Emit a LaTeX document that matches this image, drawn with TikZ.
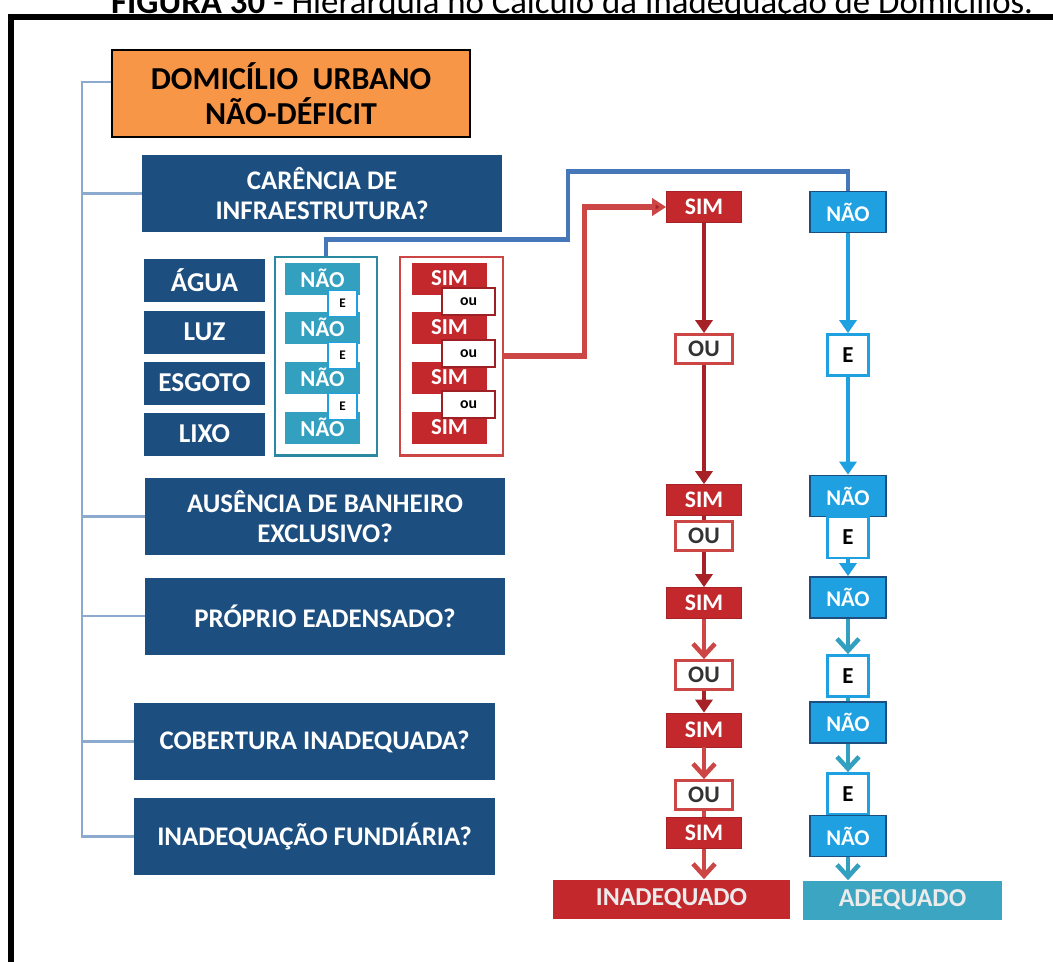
\documentclass[tikz,border=0pt]{standalone}
\usepackage{fontspec}
\setmainfont{Carlito}
\usetikzlibrary{arrows.meta}
\definecolor{azulesc}{RGB}{28,78,128}
\definecolor{laranja}{RGB}{247,150,70}
\definecolor{verdeag}{RGB}{50,160,190}
\definecolor{celeste}{RGB}{30,160,225}
\definecolor{vermelho}{RGB}{195,40,45}
\definecolor{ramo}{RGB}{140,170,205}
\definecolor{ligazul}{RGB}{70,120,185}
\definecolor{ligverm}{RGB}{205,70,70}
\begin{document}
\begin{tikzpicture}[x=0.2mm,y=-0.2mm,
 pergunta/.style={fill=azulesc,text=white,align=center,inner sep=0pt,minimum width=72mm,minimum height=15.4mm,font=\fontsize{15.3}{16.8}\selectfont\bfseries},
 item/.style={fill=azulesc,text=white,inner sep=0pt,minimum width=24.2mm,minimum height=8.6mm,font=\fontsize{15.5}{17}\selectfont\bfseries},
 naog/.style={fill=verdeag,text=white,inner sep=0pt,minimum width=15mm,minimum height=6.4mm,font=\fontsize{13}{14}\selectfont\bfseries},
 simg/.style={naog,fill=vermelho},
 eg/.style={draw=celeste,line width=0.8pt,fill=white,inner sep=0pt,minimum width=5.8mm,minimum height=5.2mm,font=\fontsize{7.5}{8}\selectfont\bfseries},
 oug/.style={eg,draw=vermelho!80!black,minimum width=10.6mm,minimum height=5.4mm,font=\fontsize{9}{10}\selectfont\bfseries},
 simc/.style={fill=vermelho,draw=vermelho!85!black,text=white,inner sep=0pt,minimum width=15mm,minimum height=6.2mm,font=\fontsize{13.5}{14}\selectfont\bfseries},
 naoc/.style={simc,fill=celeste,draw=azulesc,line width=1pt,minimum width=15.2mm,minimum height=8.2mm,font=\fontsize{12.8}{14}\selectfont\bfseries},
 ouc/.style={draw=ligverm,line width=1.6pt,fill=white,text=black!80,inner sep=0pt,minimum width=11.4mm,minimum height=5.8mm,font=\fontsize{13.5}{14}\selectfont\bfseries},
 ec/.style={ouc,draw=celeste,text=black,minimum width=8.2mm,minimum height=8.2mm,font=\fontsize{13}{14}\selectfont\bfseries},
 fim/.style={inner sep=0pt,text=white!92!black,minimum height=7.8mm,font=\fontsize{14.7}{16}\selectfont\bfseries},
 cheio/.style={line width=2.8pt,-{Triangle[length=2.6mm,width=3.4mm]}},
 aberto/.style={line width=2.6pt,-{Straight Barb[length=2.4mm,width=4.4mm]}}]
\useasboundingbox (0,0) rectangle (1053,962);
\draw[line width=3.2pt] (11,17) rectangle (1080,990);
\node[anchor=base west,font=\fontsize{19.8}{22}\selectfont] (titulo) at (105,13) {\textbf{FIGURA 30} - Hierarquia no Cálculo da Inadequação de Domicílios.};
% coluna das perguntas
\node[draw=black,line width=1.4pt,fill=laranja,align=center,inner sep=0pt,minimum width=71.6mm,minimum height=17.4mm,font=\fontsize{18.2}{20}\selectfont\bfseries] (dom) at (291,93.5) {DOMICÍLIO\ \ URBANO\\NÃO-DÉFICIT};
\node[pergunta] (carencia) at (322,193.5) {CARÊNCIA DE\\INFRAESTRUTURA?};
\foreach \t/\y/\n in {ÁGUA/280/agua,LUZ/332/luz,ESGOTO/383/esgoto,LIXO/434/lixo}
  \node[item] (\n) at (204.5,\y) {\t};
\node[pergunta] (ausencia) at (325,516.5) {AUSÊNCIA DE BANHEIRO\\EXCLUSIVO?};
\node[pergunta] (proprio) at (325,616) {PRÓPRIO EADENSADO?};
\node[pergunta] (cobertura) at (314.5,741.5) {COBERTURA INADEQUADA?};
\node[pergunta] (fundiaria) at (314.5,836.5) {INADEQUAÇÃO FUNDIÁRIA?};
\draw[ramo,line width=1.2pt] ([yshift=2.3mm]dom.west) -- ++(-29,0) coordinate (tronco) |- (fundiaria.west);
\foreach \n in {carencia,ausencia,proprio,cobertura}
  \draw[ramo,line width=1.2pt] (tronco |- \n.west) -- (\n.west);
% grupos de infraestrutura
\node[draw=verdeag!85!black,line width=1.7pt,minimum width=20.4mm,minimum height=39.6mm] (grpnao) at (326,356) {};
\node[draw=ligverm,line width=1.7pt,minimum width=20.6mm,minimum height=39.6mm] (grpsim) at (451.5,356) {};
\foreach \y [count=\i] in {278.5,327.5,377.5,427.5}{
  \node[naog] (naog\i) at (322.5,\y) {NÃO};
  \node[simg] (simg\i) at (449.5,\y) {SIM};}
\foreach \y [count=\i] in {303.5,355.5,406.5}{
  \node[eg] (eg\i) at (342.5,\y) {E};
  \node[oug] (oug\i) at (468.5,\y-2) {ou};}
% coluna SIM
\node[simc] (sim1) at (704,207) {SIM};
\node[ouc] (ou1) at (704,349) {OU};
\node[simc] (sim2) at (704,500) {SIM};
\node[ouc] (ou2) at (704,536) {OU};
\node[simc] (sim3) at (704,603) {SIM};
\node[ouc] (ou3) at (704,675) {OU};
\node[simc,minimum height=6.8mm] (sim4) at (704,730) {SIM};
\node[ouc] (ou4) at (704,795) {OU};
\node[simc] (sim5) at (704,833) {SIM};
\node[fim,fill=vermelho,minimum width=47.4mm] (inadequado) at (671.5,899) {INADEQUADO};
% coluna NÃO
\node[naoc] (nao1) at (848,212) {NÃO};
\node[ec] (e1) at (848,355) {E};
\node[naoc] (nao2) at (848,496) {NÃO};
\node[ec] (e2) at (848,537.5) {E};
\node[naoc] (nao3) at (848,597.5) {NÃO};
\node[ec] (e3) at (848,676) {E};
\node[naoc] (nao4) at (848,722.5) {NÃO};
\node[ec] (e4) at (848,794) {E};
\node[naoc] (nao5) at (848,836) {NÃO};
\node[fim,fill=verdeag!95!white,minimum width=39.8mm] (adequado) at (902.5,900) {ADEQUADO};
% ligacoes
\draw[ligazul,line width=2.8pt] (grpnao.north) -- ++(0,-16) -| ++(242,-68) -| (nao1.north);
\draw[ligverm,line width=3pt,-{Triangle[length=2.8mm,width=3.4mm,fill=vermelho!85!black]}] (grpsim.east) -- ++(80,0) |- (sim1.west);
\draw[vermelho!85!black,cheio] (sim1) -- (ou1);
\draw[vermelho!85!black,cheio] (ou1) -- (sim2);
\draw[vermelho!85!black,line width=2.8pt] (sim2) -- (ou2);
\draw[vermelho!85!black,cheio] (ou2) -- (sim3);
\draw[ligverm,aberto] (sim3) -- (ou3);
\draw[vermelho!85!black,cheio] (ou3) -- (sim4);
\draw[ligverm,aberto] (sim4) -- (ou4);
\draw[ligverm,line width=2.6pt] (ou4) -- (sim5);
\draw[ligverm,aberto] (sim5.south) -- (sim5.south |- inadequado.north);
\draw[celeste,cheio] (nao1) -- (e1);
\draw[celeste,cheio] (e1) -- (nao2);
\draw[celeste,cheio] (e2) -- (nao3);
\draw[verdeag,aberto] (nao3) -- (e3);
\draw[verdeag,line width=2.6pt] (e3) -- (nao4);
\draw[verdeag,aberto] (nao4) -- (e4);
\draw[verdeag,aberto] (nao5.south) -- (nao5.south |- adequado.north);
\end{tikzpicture}
\end{document}
